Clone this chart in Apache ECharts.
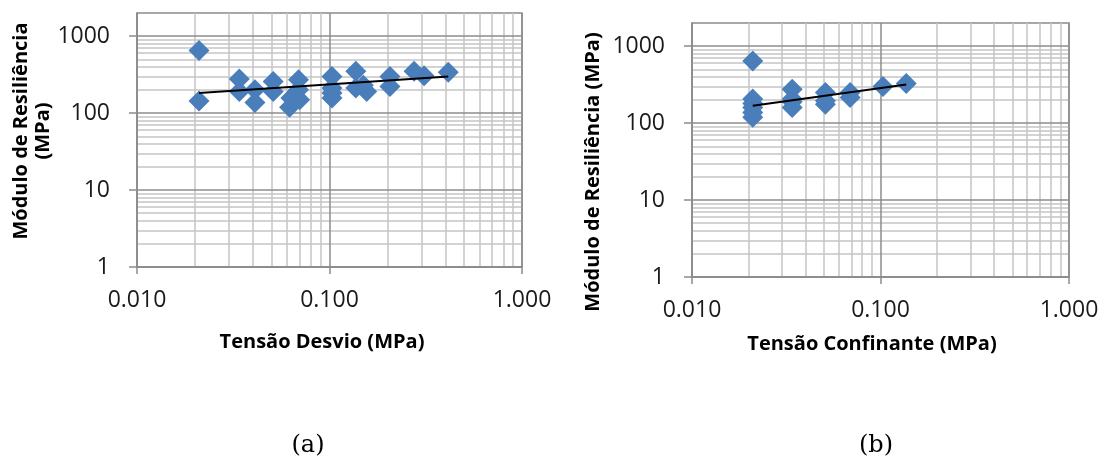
<!DOCTYPE html>
<html>
<head>
<meta charset="utf-8">
<script src="https://cdn.jsdelivr.net/npm/echarts@6/dist/echarts.min.js"></script>
<style>
  html, body { margin: 0; padding: 0; background: #fff; }
  #chart { width: 1104px; height: 467px; }
</style>
</head>
<body>
<div id="chart"></div>
<script>
// (a) Resilient modulus vs deviator stress  [MPa, MPa]
const desvioPoints = [
  [0.021, 650], [0.021, 144],
  [0.034, 277], [0.034, 191],
  [0.041, 201], [0.041, 137],
  [0.051, 258], [0.051, 191],
  [0.062, 119], [0.063, 157], [0.069, 272], [0.069, 201], [0.070, 149],
  [0.103, 300], [0.103, 212], [0.103, 182], [0.103, 157],
  [0.137, 349], [0.137, 212], [0.150, 230], [0.156, 191],
  [0.206, 300], [0.206, 222],
  [0.275, 349], [0.310, 306], [0.414, 339]
];
// power trend line end points for (a)
const desvioTrend = [[0.021, 183], [0.414, 300]];

// (b) Resilient modulus vs confining stress  [MPa, MPa]
const confPoints = [
  [0.021, 640], [0.021, 205], [0.021, 180], [0.021, 160], [0.021, 137], [0.021, 119],
  [0.034, 276], [0.034, 205], [0.034, 190], [0.034, 160],
  [0.051, 249], [0.051, 195], [0.051, 176],
  [0.069, 249], [0.069, 215],
  [0.103, 300], [0.137, 326]
];
// power trend line end points for (b)
const confTrend = [[0.021, 168], [0.137, 318]];

// axis tick values and log gridline positions
const xMajor = [0.01, 0.1, 1];
const yMajor = [1, 10, 100, 1000];
const xMinor = [0.02, 0.03, 0.04, 0.05, 0.06, 0.07, 0.08, 0.09,
                0.2, 0.3, 0.4, 0.5, 0.6, 0.7, 0.8, 0.9];
const yMinor = [2, 3, 4, 5, 6, 7, 8, 9,
                20, 30, 40, 50, 60, 70, 80, 90,
                200, 300, 400, 500, 600, 700, 800, 900];

const xTitles = ['Tensão Desvio (MPa)', 'Tensão Confinante (MPa)'];
const yTitles = ['Módulo de Resiliência\n(MPa)', 'Módulo de Resiliência (MPa)'];
const panelTags = ['(a)', '(b)'];

const MAJOR = '#8c8c8c';
const MINOR = '#c4c4c4';
const BLUE = '#4a7ebb';
const FONT = '"Open Sans", "Noto Sans", sans-serif';

function xAxisFor(idx) {
  return {
    type: 'log', logBase: 10, gridIndex: idx, min: 0.01, max: 1, z: 1,
    axisLine: { show: true, lineStyle: { color: MAJOR, width: 1.5 } },
    axisTick: { show: true, length: 7, customValues: xMajor, lineStyle: { color: MAJOR, width: 1.5 } },
    axisLabel: {
      customValues: xMajor, margin: 22, color: '#1a1a1a', fontSize: 23, fontFamily: FONT,
      formatter: v => Number(v).toFixed(3)
    },
    splitLine: { show: true, lineStyle: { color: MAJOR, width: 1.5 } }
  };
}
function yAxisFor(idx) {
  return {
    type: 'log', logBase: 10, gridIndex: idx, min: 1, max: 2000, z: 1,
    axisLine: { show: true, lineStyle: { color: MAJOR, width: 1.5 } },
    axisTick: { show: true, length: 8, customValues: yMajor, lineStyle: { color: MAJOR, width: 1.5 } },
    axisLabel: {
      customValues: yMajor, margin: 27, color: '#1a1a1a', fontSize: 23, fontFamily: FONT,
      formatter: v => String(Math.round(v))
    },
    splitLine: { show: true, lineStyle: { color: MAJOR, width: 1.5 } }
  };
}

// light gridlines at 2..9 of each decade, kept beneath the markers
function minorGrid(idx) {
  return {
    type: 'line', xAxisIndex: idx, yAxisIndex: idx, data: [], z: 0.5, silent: true,
    markLine: {
      z: 0.5, silent: true, symbol: 'none', animation: false,
      label: { show: false },
      emphasis: { disabled: true },
      lineStyle: { color: MINOR, width: 1.5, type: 'solid' },
      data: xMinor.map(v => ({ xAxis: v })).concat(yMinor.map(v => ({ yAxis: v })))
    }
  };
}
function scatterSeries(idx, pts) {
  return {
    type: 'scatter', xAxisIndex: idx, yAxisIndex: idx, data: pts, z: 3,
    symbol: 'diamond', symbolSize: 21,
    itemStyle: { color: BLUE, opacity: 1 }
  };
}
function trendSeries(idx, pts) {
  return {
    type: 'line', xAxisIndex: idx, yAxisIndex: idx, data: pts, z: 4,
    showSymbol: false, symbol: 'none',
    lineStyle: { color: '#000', width: 2 }
  };
}

const titleStyle = { fontFamily: FONT, fontWeight: 'bold', fontSize: 20, fill: '#000' };
const tagStyle = { fontFamily: '"DejaVu Serif", serif', fontSize: 24, fill: '#000' };

const option = {
  animation: false,
  backgroundColor: '#fff',
  grid: [
    { left: 137, top: 13, width: 385, height: 254, show: true, borderColor: MAJOR, borderWidth: 1.5 },
    { left: 692, top: 23, width: 377, height: 254, show: true, borderColor: MAJOR, borderWidth: 1.5 }
  ],
  xAxis: [xAxisFor(0), xAxisFor(1)],
  yAxis: [yAxisFor(0), yAxisFor(1)],
  series: [
    minorGrid(0), minorGrid(1),
    scatterSeries(0, desvioPoints), scatterSeries(1, confPoints),
    trendSeries(0, desvioTrend), trendSeries(1, confTrend)
  ],
  graphic: [
    { type: 'text', x: 322, y: 342, style: Object.assign({ text: xTitles[0], textAlign: 'center', textVerticalAlign: 'middle' }, titleStyle) },
    { type: 'text', x: 872, y: 344, style: Object.assign({ text: xTitles[1], textAlign: 'center', textVerticalAlign: 'middle' }, titleStyle) },
    { type: 'text', x: 32, y: 131, rotation: Math.PI / 2, style: Object.assign({ text: yTitles[0], textAlign: 'center', textVerticalAlign: 'middle', lineHeight: 22 }, titleStyle) },
    { type: 'text', x: 593, y: 172, rotation: Math.PI / 2, style: Object.assign({ text: yTitles[1], textAlign: 'center', textVerticalAlign: 'middle' }, titleStyle) },
    { type: 'text', x: 308, y: 446, style: Object.assign({ text: panelTags[0], textAlign: 'center', textVerticalAlign: 'middle' }, tagStyle) },
    { type: 'text', x: 876, y: 446, style: Object.assign({ text: panelTags[1], textAlign: 'center', textVerticalAlign: 'middle' }, tagStyle) }
  ]
};

echarts.init(document.getElementById('chart'), null, { renderer: 'canvas' }).setOption(option);
</script>
</body>
</html>
